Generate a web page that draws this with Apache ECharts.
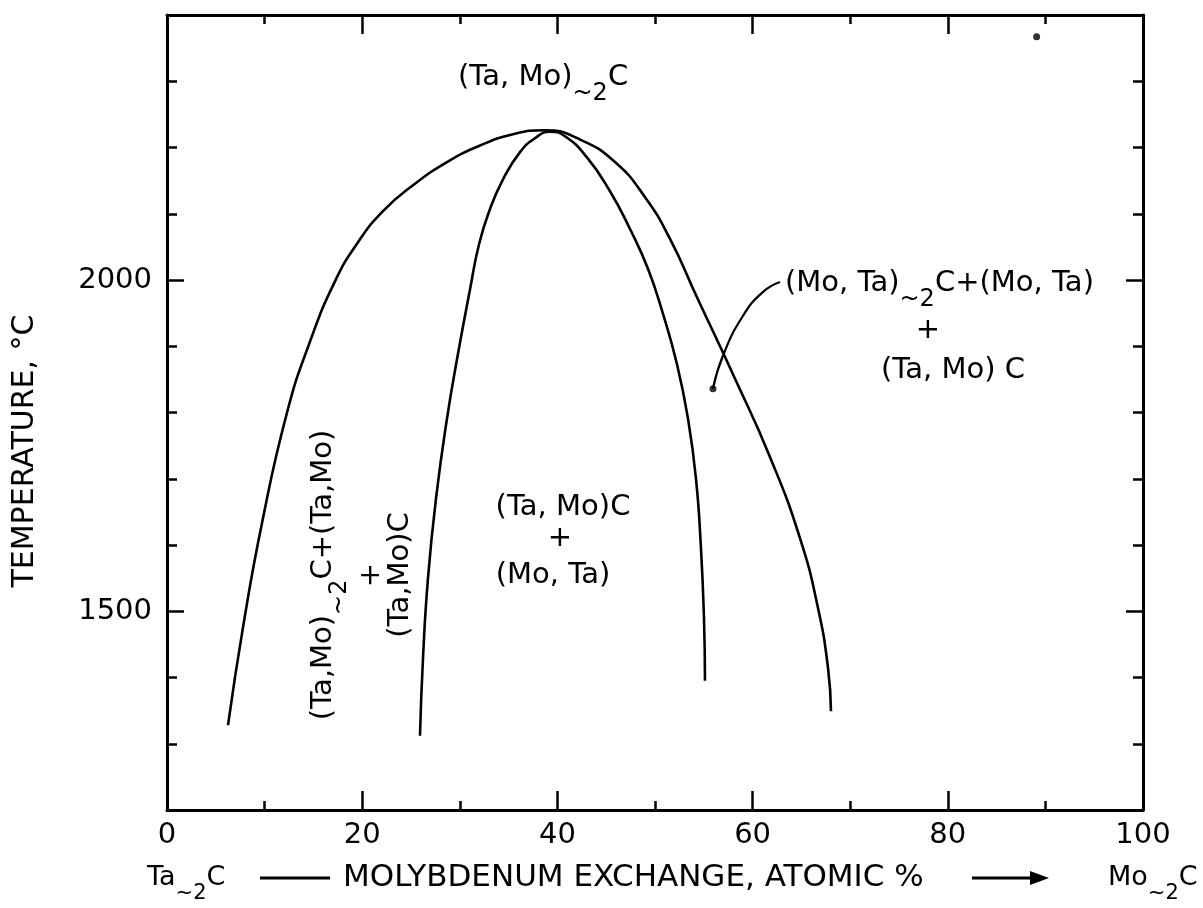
<!DOCTYPE html>
<html><head><meta charset="utf-8">
<script src="https://cdn.jsdelivr.net/npm/echarts@6/dist/echarts.min.js"></script>
<style>html,body{margin:0;padding:0;background:#fff}#c{width:1203px;height:908px}</style>
</head><body><div id="c"></div>
<script>
// ---- data (composition, atomic % Mo ; temperature, °C) ----
const outerDome = [
  [6.25,1328],[7.79,1476],[9.73,1633],[12.30,1800],[14.65,1907],[17.21,1998],[19.57,2057],
  [22.13,2104],[25.20,2143],[28.69,2178],[32.07,2203],[35.45,2220],[38.73,2226],[42.32,2212],
  [45.90,2178],[48.98,2125],[51.54,2062],[54.30,1974],[58.20,1851],[61.78,1733],[64.86,1610],
  [66.70,1505],[67.73,1414],[68.03,1349]
];
const innerDome = [
  [25.92,1312],[26.23,1429],[26.74,1550],[27.56,1670],[28.69,1791],[29.82,1889],[31.05,1986],
  [31.97,2054],[33.09,2107],[34.43,2152],[36.17,2193],[37.70,2214],[39.24,2224],[40.78,2217],
  [43.03,2185],[45.39,2134],[47.44,2077],[49.28,2017],[50.82,1949],[52.25,1873],[53.38,1791],
  [54.20,1700],[54.71,1595],[55.02,1489],[55.12,1395]
];
const leaderLine = [[55.94,1836],[56.97,1886],[59.02,1946],[61.07,1982],[62.81,1997]];
const leaderDot = [[55.94,1836]];
const cornerDot = [[89.1,2367]];
const xTickLabels = [0,20,40,60,80,100];
const yTickLabels = [1500,2000];
const yTicksMinor = [1200,1300,1400,1600,1700,1800,1900,2100,2200,2300,2400];

const FONT = '"DejaVu Sans"';
const cv = document.createElement('canvas').getContext('2d');
function tw(t, s){ cv.font = s + 'px ' + FONT; return cv.measureText(t).width; }
function txt(t, x, y, size, align){
  return {type:'text', x:x, y:y, silent:true,
    style:{text:t, font:size+'px '+FONT, fill:'#000', textAlign:align||'left', align:align||'left',
      textVerticalAlign:'middle', verticalAlign:'middle'}};
}
// segments: [text, isSub]
function compose(segs, size, subSize, subDy, align){
  let w = 0; segs.forEach(([t,s]) => { w += tw(t, s ? subSize : size); });
  let x = align === 'center' ? -w/2 : 0;
  const kids = [];
  segs.forEach(([t,s]) => {
    const fs = s ? subSize : size;
    kids.push(txt(t, x, s ? subDy : 0, fs, 'left'));
    x += tw(t, fs);
  });
  return kids;
}
const S = 29, SS = 24, SD = 17;

const chart = echarts.init(document.getElementById('c'), null, {renderer:'canvas'});
const axisLineStyle = {color:'#000', width:3};
const tickStyle = {color:'#000', width:2.5};
function xAx(pos, labels){
  return {type:'value', position:pos, min:0, max:100, interval:20,
    axisLine:{show:true, onZero:false, lineStyle:axisLineStyle},
    axisTick:{show:true, inside:true, length:19, lineStyle:tickStyle},
    minorTick:{show:true, splitNumber:2, length:9, lineStyle:tickStyle},
    splitLine:{show:false}, minorSplitLine:{show:false},
    axisLabel:{show:labels, fontSize:29, fontFamily:FONT, color:'#000', margin:11,
      formatter: v => xTickLabels.includes(v) ? String(v) : ''}};
}
function yAx(pos, major, labels){
  return {type:'value', position:pos, min:1200, max:2400,
    axisLine:{show:!major, onZero:false, lineStyle:axisLineStyle},
    axisTick:{show:true, inside:true, length: major ? 17 : 10, lineStyle:tickStyle,
      customValues: major ? yTickLabels : yTicksMinor},
    splitLine:{show:false},
    axisLabel:{show:labels, fontSize:29, fontFamily:FONT, color:'#000', margin:15,
      customValues: yTickLabels, formatter: v => String(v)}};
}

const lineSeries = (name, data, w) => ({name, type:'line', data, smooth:0.5, symbol:'none',
  xAxisIndex:0, yAxisIndex:0, lineStyle:{color:'#000', width:w}, silent:true, z:3});

const option = {
  animation:false,
  backgroundColor:'#fff',
  grid:{left:167, right:60, top:15, bottom:98, containLabel:false},
  xAxis:[xAx('bottom', true), xAx('top', false)],
  yAxis:[yAx('left', false, true), yAx('left', true, false), yAx('right', false, false), yAx('right', true, false)],
  series:[
    lineSeries('outer', outerDome, 2.6),
    lineSeries('inner', innerDome, 2.6),
    lineSeries('leader', leaderLine, 2.2),
    {type:'scatter', data:leaderDot.concat(cornerDot), symbolSize:7, itemStyle:{color:'#000'}, silent:true}
  ],
  graphic:[
    // top label
    {type:'group', x:458, y:77, children: compose([['(Ta, Mo)',0],['~2',1],['C',0]], S, SS, SD, 'left')},
    // right label
    {type:'group', x:785, y:283, children: compose([['(Mo, Ta)',0],['~2',1],['C+(Mo, Ta)',0]], S, SS, SD, 'left')},
    txt('+', 928, 330, S, 'center'),
    txt('(Ta, Mo) C', 953, 370, S, 'center'),
    // middle label
    txt('(Ta, Mo)C', 563, 507, S, 'center'),
    txt('+', 560, 538, S, 'center'),
    txt('(Mo, Ta)', 553, 575, S, 'center'),
    // left rotated label
    {type:'group', x:323, y:575, rotation:Math.PI/2, children: [].concat(
      compose([['(Ta,Mo)',0],['~2',1],['C+(Ta,Mo)',0]], S, SS, SD, 'center'),
      [txt('+', 0, 48, S, 'center'), txt('(Ta,Mo)C', 0, 77, S, 'center')]
    )},
    // y axis title
    {type:'group', x:25, y:451, rotation:Math.PI/2, children:[txt('TEMPERATURE, °C', 0, 0, 30, 'center')]},
    // x axis title
    {type:'group', x:147, y:878, children: compose([['Ta',0],['~2',1],['C',0]], 27, 21, 16, 'left')},
    {type:'line', shape:{x1:260, y1:878, x2:330, y2:878}, style:{stroke:'#000', lineWidth:3}, silent:true},
    txt('MOLYBDENUM EXCHANGE, ATOMIC %', 343, 878, 31, 'left'),
    {type:'line', shape:{x1:972, y1:878, x2:1034, y2:878}, style:{stroke:'#000', lineWidth:3}, silent:true},
    {type:'polygon', shape:{points:[[1030,871],[1049,878],[1030,885]]}, style:{fill:'#000'}, silent:true},
    {type:'group', x:1108, y:878, children: compose([['Mo',0],['~2',1],['C',0]], 27, 21, 16, 'left')}
  ]
};
chart.setOption(option);
</script>
</body></html>
